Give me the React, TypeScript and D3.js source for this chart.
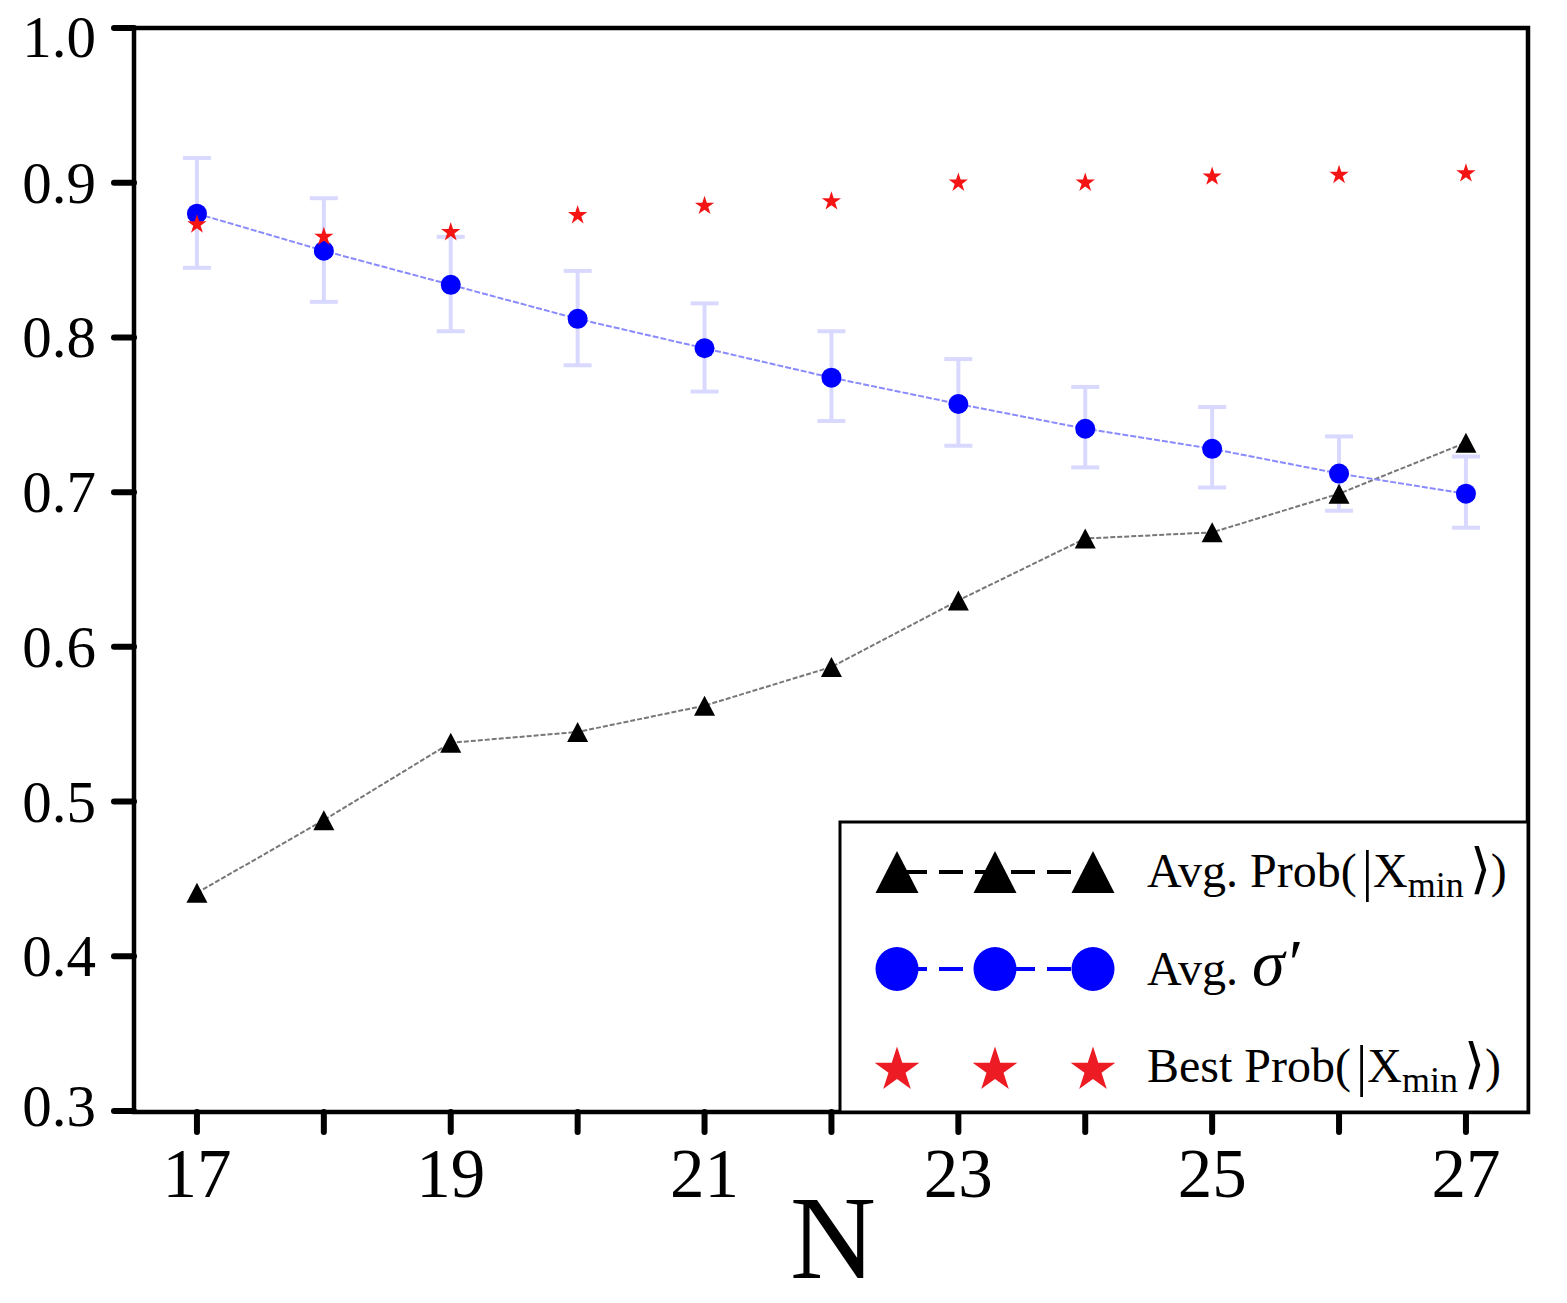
import * as d3 from "d3";

// values
const nValues = [17, 18, 19, 20, 21, 22, 23, 24, 25, 26, 27];
const avgProb = [0.441, 0.488, 0.538, 0.545, 0.562, 0.587, 0.630, 0.670, 0.674, 0.699, 0.732];
const avgSigma = [0.880, 0.856, 0.834, 0.812, 0.793, 0.774, 0.757, 0.741, 0.728, 0.712, 0.699];
const sigmaUpper = [0.916, 0.890, 0.865, 0.843, 0.822, 0.804, 0.786, 0.768, 0.755, 0.736, 0.723];
const sigmaLower = [0.845, 0.823, 0.804, 0.782, 0.765, 0.746, 0.730, 0.716, 0.703, 0.688, 0.677];
const bestProb = [0.873, 0.865, 0.868, 0.879, 0.885, 0.888, 0.900, 0.900, 0.904, 0.905, 0.906];

const yTicks = [0.3, 0.4, 0.5, 0.6, 0.7, 0.8, 0.9, 1.0];
const xTicks = [17, 18, 19, 20, 21, 22, 23, 24, 25, 26, 27];
const xTickLabels = ["17", "", "19", "", "21", "", "23", "", "25", "", "27"];

const W = 1567;
const H = 1303;
const L = 134, R = 1528, T = 28, B = 1112;
const FONT = "'Liberation Serif', 'Times New Roman', serif";

const x = d3.scaleLinear().domain([16.504, 27.489]).range([L, R]);
const y = d3.scaleLinear().domain([0.3, 1.0]).range([1111, 28]);

function tri(w: number, h: number) {
  const p = d3.path();
  p.moveTo(0, -h / 2);
  p.lineTo(w / 2, h / 2);
  p.lineTo(-w / 2, h / 2);
  p.closePath();
  return p.toString();
}

const starSmall = d3.symbol(d3.symbolStar, 115)()!;
const starBig = d3.symbol(d3.symbolStar, 620)()!;

function KetLabel({ word, yPos }: { word: string; yPos: number }) {
  return (
    <text x={1147} y={yPos} fontSize={48}>
      <tspan>{word}</tspan>
      <tspan dx={12}>Prob(</tspan>
      <tspan fontSize={56} dx={5} dy={3}>|</tspan>
      <tspan dy={-3}>X</tspan>
      <tspan fontSize={36} dy={10}>min</tspan>
      <tspan dy={-10} dx={6} fontSize={54}>⟩</tspan>
      <tspan>)</tspan>
    </text>
  );
}

export default function App() {
  const probLine = d3.line<number>()
    .x((_, i) => x(nValues[i]))
    .y(d => y(d))(avgProb)!;
  const sigmaLine = d3.line<number>()
    .x((_, i) => x(nValues[i]))
    .y(d => y(d))(avgSigma)!;

  const legendX = [897, 995, 1093];
  const rows = [872, 969, 1068];

  return (
    <svg width={W} height={H} style={{ position: "absolute", left: 0, top: 0, display: "block", background: "#fff" }}>
      {/* error bars */}
      <g stroke="#d9d9ff" strokeWidth={4}>
        {nValues.map((n, i) => (
          <g key={n}>
            <line x1={x(n)} x2={x(n)} y1={y(sigmaUpper[i])} y2={y(sigmaLower[i])} />
            <line x1={x(n) - 14} x2={x(n) + 14} y1={y(sigmaUpper[i])} y2={y(sigmaUpper[i])} />
            <line x1={x(n) - 14} x2={x(n) + 14} y1={y(sigmaLower[i])} y2={y(sigmaLower[i])} />
          </g>
        ))}
      </g>

      {/* avg prob */}
      <path d={probLine} fill="none" stroke="#777" strokeWidth={2} strokeDasharray="5,2" />
      {nValues.map((n, i) => (
        <path key={n} d={tri(21, 20)} transform={`translate(${x(n)},${y(avgProb[i])})`} fill="#000" />
      ))}

      {/* avg sigma */}
      <path d={sigmaLine} fill="none" stroke="#8a8aff" strokeWidth={2} strokeDasharray="6,2" />
      {nValues.map((n, i) => (
        <circle key={n} cx={x(n)} cy={y(avgSigma[i])} r={10} fill="#0000ff" />
      ))}

      {/* best prob */}
      {nValues.map((n, i) => (
        <path key={n} d={starSmall} transform={`translate(${x(n)},${y(bestProb[i])})`} fill="#f41414" />
      ))}

      {/* frame */}
      <rect x={L} y={T} width={R - L} height={B - T} fill="none" stroke="#000" strokeWidth={4.5} />

      {/* y axis */}
      {yTicks.map(t => (
        <g key={t}>
          <line x1={114} x2={L} y1={y(t)} y2={y(t)} stroke="#000" strokeWidth={6} strokeLinecap="round" />
          <text x={96} y={y(t)} dy={t === 1.0 ? 9 : t === 0.3 ? -5 : 0} textAnchor="end" dominantBaseline="central"
            fontFamily={FONT} fontSize={59} fill="#000">{d3.format(".1f")(t)}</text>
        </g>
      ))}

      {/* x axis */}
      {xTicks.map((t, i) => (
        <g key={t}>
          <line x1={x(t)} x2={x(t)} y1={B} y2={1132} stroke="#000" strokeWidth={6} strokeLinecap="round" />
          <text x={x(t)} y={1197} textAnchor="middle" fontFamily={FONT} fontSize={69} fill="#000">{xTickLabels[i]}</text>
        </g>
      ))}
      <text x={833} y={1278} textAnchor="middle" fontFamily={FONT} fontSize={119} fill="#000">N</text>

      {/* legend */}
      <rect x={840} y={822} width={R - 840} height={B - 822} fill="#fff" stroke="#000" strokeWidth={3} />
      <line x1={legendX[0]} x2={legendX[2]} y1={rows[0]} y2={rows[0]} stroke="#000" strokeWidth={4} strokeDasharray="24,12" strokeDashoffset={-6} />
      {legendX.map(lx => (
        <path key={lx} d={tri(43, 42)} transform={`translate(${lx},${rows[0]})`} fill="#000" />
      ))}
      <line x1={legendX[0]} x2={legendX[2]} y1={rows[1]} y2={rows[1]} stroke="#0000ff" strokeWidth={4} strokeDasharray="24,12" strokeDashoffset={-6} />
      {legendX.map(lx => (
        <ellipse key={lx} cx={lx} cy={rows[1]} rx={21.5} ry={22} fill="#0000ff" />
      ))}
      {legendX.map(lx => (
        <path key={lx} d={starBig} transform={`translate(${lx},${rows[2] + 2})`} fill="#ed1c24" />
      ))}

      <g fontFamily={FONT} fill="#000">
        <KetLabel word="Avg." yPos={887} />
        <text x={1147} y={985} fontSize={48}>
          <tspan>Avg.</tspan>
          <tspan dx={14} fontSize={66} fontStyle="italic">σ′</tspan>
        </text>
        <KetLabel word="Best" yPos={1082} />
      </g>
    </svg>
  );
}
